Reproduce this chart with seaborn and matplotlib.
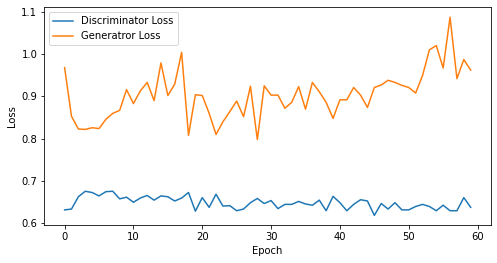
import matplotlib
matplotlib.use("Agg")
import matplotlib.pyplot as plt
import seaborn as sns
import pandas as pd
import numpy as np

epochs = list(range(60))
disc_loss = [0.632, 0.634, 0.663, 0.676, 0.673, 0.665, 0.675, 0.676, 0.658, 0.662,
             0.650, 0.660, 0.666, 0.655, 0.665, 0.663, 0.653, 0.660, 0.673, 0.629,
             0.661, 0.638, 0.669, 0.641, 0.642, 0.630, 0.634, 0.649, 0.659, 0.647,
             0.654, 0.635, 0.645, 0.645, 0.652, 0.646, 0.643, 0.655, 0.630, 0.664,
             0.649, 0.630, 0.645, 0.656, 0.653, 0.619, 0.647, 0.634, 0.649, 0.632,
             0.632, 0.640, 0.645, 0.640, 0.630, 0.643, 0.630, 0.630, 0.661, 0.638]
gen_loss = [0.968, 0.853, 0.823, 0.822, 0.826, 0.824, 0.846, 0.860, 0.867, 0.916,
            0.883, 0.913, 0.933, 0.890, 0.979, 0.902, 0.929, 1.004, 0.808, 0.904,
            0.902, 0.860, 0.810, 0.840, 0.864, 0.889, 0.852, 0.924, 0.798, 0.925,
            0.903, 0.903, 0.872, 0.886, 0.923, 0.870, 0.933, 0.911, 0.886, 0.848,
            0.892, 0.892, 0.921, 0.903, 0.874, 0.921, 0.927, 0.938, 0.933, 0.926,
            0.921, 0.908, 0.949, 1.010, 1.020, 0.967, 1.087, 0.942, 0.987, 0.962]

df = pd.DataFrame({"Epoch": epochs,
                   "Discriminator Loss": disc_loss,
                   "Generatror Loss": gen_loss})

W, H = 497, 263
fig = plt.figure(figsize=(W / 72, H / 72), dpi=72)
ax = fig.add_axes([44.3 / W, (H - 225.3) / H, (491 - 44.3) / W, (225.3 - 7.3) / H])

sns.lineplot(data=df, x="Epoch", y="Discriminator Loss", ax=ax,
             color="#1f77b4", label="Discriminator Loss", linewidth=1.5)
sns.lineplot(data=df, x="Epoch", y="Generatror Loss", ax=ax,
             color="#ff7f0e", label="Generatror Loss", linewidth=1.5)

ax.set_xlabel("Epoch", fontsize=10)
ax.set_ylabel("Loss", fontsize=10)
ax.set_xticks([0, 10, 20, 30, 40, 50, 60])
ax.set_yticks([0.6, 0.7, 0.8, 0.9, 1.0, 1.1])
ax.tick_params(labelsize=10)
ax.legend(loc="upper left", fontsize=10)

fig.savefig("out.png", dpi=72)
